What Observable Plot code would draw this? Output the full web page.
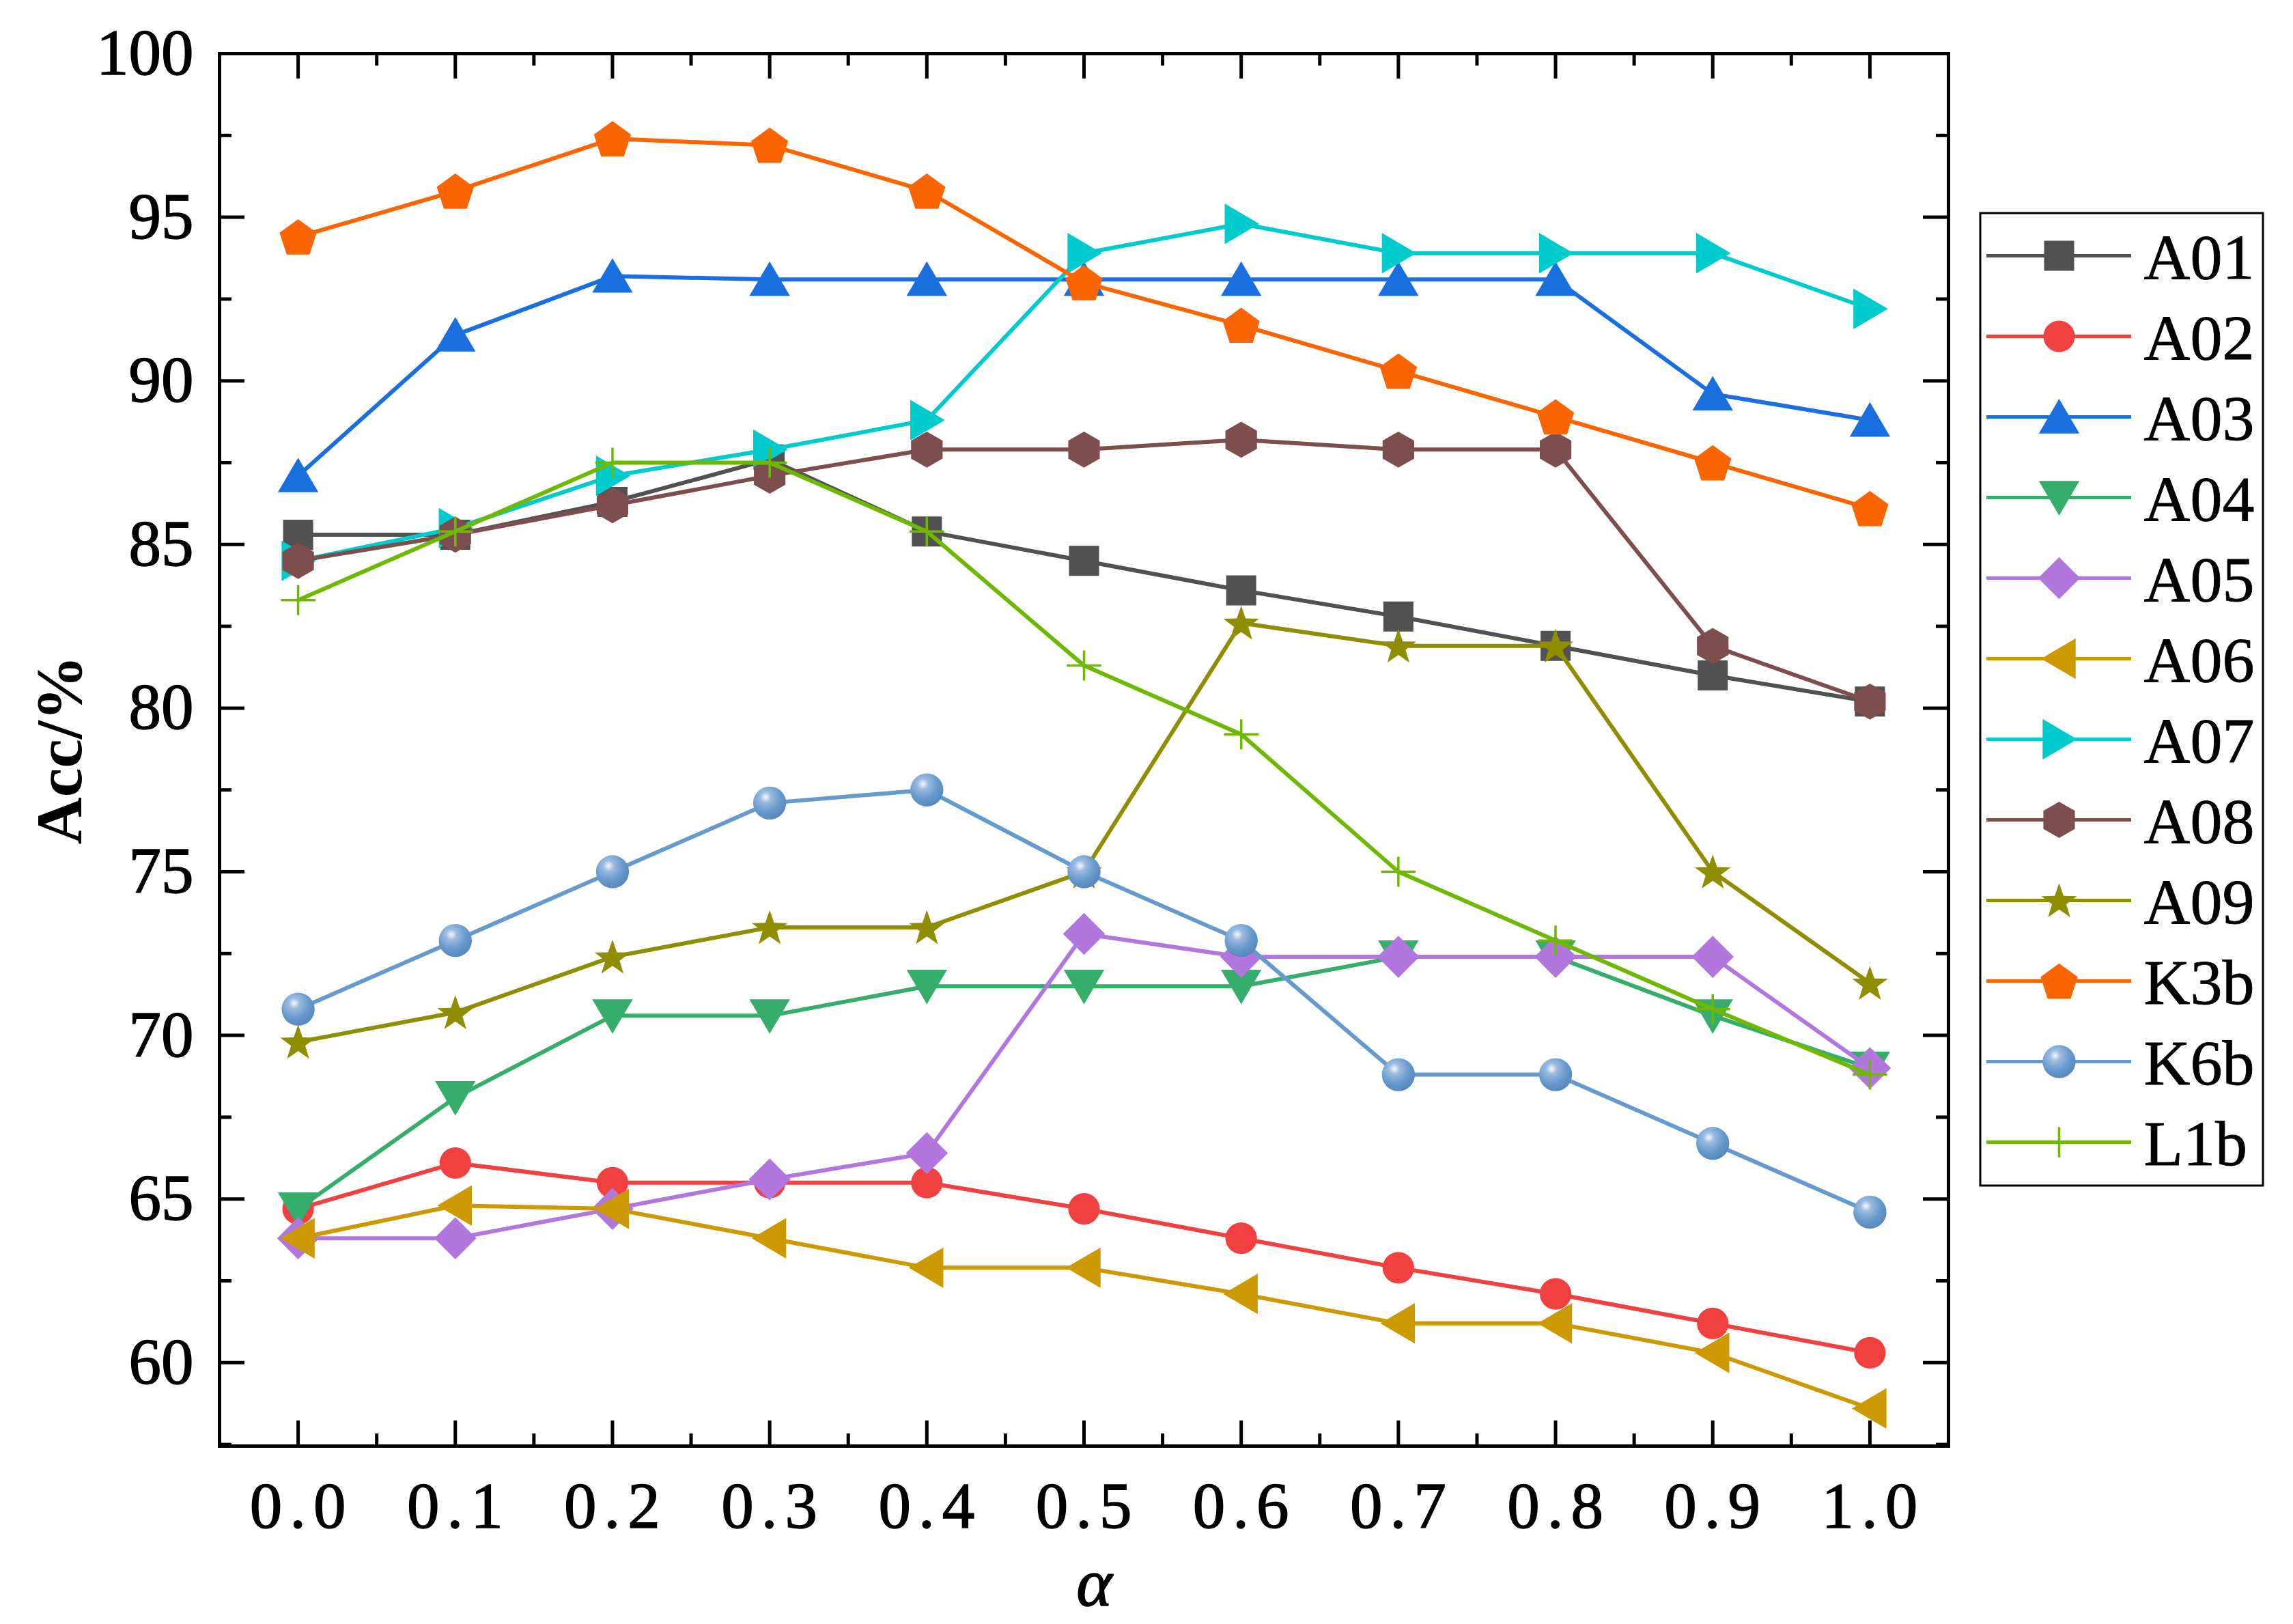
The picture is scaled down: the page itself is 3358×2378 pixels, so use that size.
<!DOCTYPE html>
<html><head><meta charset="utf-8">
<script src="https://cdn.jsdelivr.net/npm/d3@7"></script>
<script src="https://cdn.jsdelivr.net/npm/@observablehq/plot@0.6"></script>
<style>
body{margin:0;background:#fff}
#wrap{position:relative;width:3358px;height:2378px;background:#fff}
#legend{position:absolute;left:2898px;top:310px}
g[aria-label="x-axis tick label"] text{letter-spacing:11px}
g[aria-label="x-axis tick label"], g[aria-label="y-axis tick label"]{stroke:black;stroke-width:1.5px;paint-order:stroke}
#legend g[aria-label="text"]{stroke:black;stroke-width:0.8px;paint-order:stroke}
</style></head><body><div id="wrap"></div>
<script>
// ---- data ----
const alpha = [0.0, 0.1, 0.2, 0.3, 0.4, 0.5, 0.6, 0.7, 0.8, 0.9, 1.0];
const A01 = [85.3, 85.3, 86.3, 87.6, 85.4, 84.5, 83.6, 82.8, 81.9, 81.0, 80.2];
const A02 = [64.7, 66.1, 65.5, 65.5, 65.5, 64.7, 63.8, 62.9, 62.1, 61.2, 60.3];
const A03 = [87.1, 91.4, 93.2, 93.1, 93.1, 93.1, 93.1, 93.1, 93.1, 89.6, 88.8];
const A04 = [64.7, 68.1, 70.6, 70.6, 71.5, 71.5, 71.5, 72.4, 72.4, 70.6, 69.0];
const A05 = [63.8, 63.8, 64.7, 65.6, 66.4, 73.1, 72.4, 72.4, 72.4, 72.4, 69.0];
const A06 = [63.8, 64.8, 64.7, 63.8, 62.9, 62.9, 62.1, 61.2, 61.2, 60.3, 58.6];
const A07 = [84.5, 85.5, 87.1, 87.9, 88.8, 93.9, 94.8, 93.9, 93.9, 93.9, 92.2];
const A08 = [84.5, 85.3, 86.2, 87.1, 87.9, 87.9, 88.2, 87.9, 87.9, 81.9, 80.2];
const A09 = [69.8, 70.7, 72.4, 73.3, 73.3, 75.0, 82.6, 81.9, 81.9, 75.0, 71.6];
const K3b = [94.4, 95.8, 97.4, 97.2, 95.8, 93.0, 91.7, 90.3, 88.9, 87.5, 86.1];
const K6b = [70.8, 72.9, 75.0, 77.1, 77.5, 75.0, 72.9, 68.8, 68.8, 66.7, 64.6];
const L1b = [83.3, 85.4, 87.5, 87.5, 85.4, 81.3, 79.2, 75.0, 72.9, 70.8, 68.8];

const seriesNames = ["A01","A02","A03","A04","A05","A06","A07","A08","A09","K3b","K6b","L1b"];
const seriesValues = [A01, A02, A03, A04, A05, A06, A07, A08, A09, K3b, K6b, L1b];
const seriesColors = ["#515151","#F14040","#1A6FDF","#37AD6B","#B177DE","#CC9900","#00CBCC","#7D4E4E","#8E8E00","#FB6501","#6699CC","#6FB802"];

const yMajor = [60, 65, 70, 75, 80, 85, 90, 95, 100];
const yMinor = [57.5, 62.5, 67.5, 72.5, 77.5, 82.5, 87.5, 92.5, 97.5];
const xMajor = [0.0, 0.1, 0.2, 0.3, 0.4, 0.5, 0.6, 0.7, 0.8, 0.9, 1.0];
const xMinor = [0.05, 0.15, 0.25, 0.35, 0.45, 0.55, 0.65, 0.75, 0.85, 0.95];

// ---- symbols (geometry in px, scaled by k) ----
const k = 1.1;
function poly(pts) {
  return {draw(ctx, size) {
    const s = k * Math.sqrt(size / Math.PI);
    ctx.moveTo(pts[0][0] * s, pts[0][1] * s);
    for (let i = 1; i < pts.length; i++) ctx.lineTo(pts[i][0] * s, pts[i][1] * s);
    ctx.closePath();
  }};
}
function regular(n, R, rot, oy, inner) {
  const pts = [];
  const m = inner ? n * 2 : n;
  for (let i = 0; i < m; i++) {
    const a = rot + i * 2 * Math.PI / m;
    const rr = inner && (i % 2) ? inner : R;
    pts.push([rr * Math.cos(a), rr * Math.sin(a) + oy]);
  }
  return poly(pts);
}
function circ(R) {
  return {draw(ctx, size){ const s = k * Math.sqrt(size/Math.PI); ctx.moveTo(R*s,0); ctx.arc(0,0,R*s,0,2*Math.PI); }};
}
const symSquare = poly([[-20,-20],[20,-20],[20,20],[-20,20]]);
const symCircle = circ(21);
const symCircleB = circ(22);
const symTriUp = poly([[0,-24],[27,22],[-27,22]]);
const symTriDown = poly([[0,24],[27,-22],[-27,-22]]);
const symTriLeft = poly([[-24,0],[22,-27],[22,27]]);
const symTriRight = poly([[24,0],[-22,-27],[-22,27]]);
const symDiamond = poly([[0,-28],[28,0],[0,28],[-28,0]]);
const symHexagon = poly([[0,-24],[21,-12],[21,12],[0,24],[-21,12],[-21,-12]]);
const symStar = regular(5, 25, -Math.PI/2, 2, 10);
const symPentagon = regular(5, 26, -Math.PI/2, 2.5, 0);
const symPlus = {draw(ctx, size){ const s = k * Math.sqrt(size/Math.PI); ctx.moveTo(-23*s,0); ctx.lineTo(23*s,0); ctx.moveTo(0,-20*s); ctx.lineTo(0,20*s); }};
const seriesSymbols = [symSquare, symCircle, symTriUp, symTriDown, symDiamond, symTriLeft, symTriRight, symHexagon, symStar, symPentagon, symCircleB, symPlus];

function dotStyle(i) {
  if (seriesNames[i] === "L1b") return {fill: "none", stroke: seriesColors[i], strokeWidth: 3.5};
  if (seriesNames[i] === "K6b") return {fill: "url(#k6bGrad)", stroke: "none"};
  return {fill: seriesColors[i], stroke: "none"};
}

// ---- layout ----
const W = 3358, H = 2378, mL = 321, mR = 505, mT = 78, mB = 261;
const plotW = W - mL - mR, plotH = H - mT - mB;
const majorLen = 37, minorLen = 18;
const font = "'Liberation Serif', 'Times New Roman', serif";

const seriesMarks = [];
seriesNames.forEach((name, i) => {
  const rows = alpha.map((a, j) => ({alpha: a, acc: seriesValues[i][j]}));
  seriesMarks.push(Plot.line(rows, {x: "alpha", y: "acc", stroke: seriesColors[i], strokeWidth: 6}));
  seriesMarks.push(Plot.dot(rows, {x: "alpha", y: "acc", symbol: seriesSymbols[i], r: 1, ...dotStyle(i)}));
});

const tickStyle = {stroke: "black", strokeWidth: 5};
const chart = Plot.plot({
  width: W, height: H,
  marginLeft: mL, marginRight: mR, marginTop: mT, marginBottom: mB,
  style: {fontFamily: font, background: "white", color: "black", overflow: "visible"},
  x: {domain: [-0.05, 1.05]},
  y: {domain: [57.45, 100]},
  marks: [
    ...seriesMarks,
    Plot.tickY(yMajor, {y: d => d, insetRight: plotW - majorLen, ...tickStyle}),
    Plot.tickY(yMinor, {y: d => d, insetRight: plotW - minorLen, ...tickStyle}),
    Plot.tickY(yMajor, {y: d => d, insetLeft: plotW - majorLen, ...tickStyle}),
    Plot.tickY(yMinor, {y: d => d, insetLeft: plotW - minorLen, ...tickStyle}),
    Plot.tickX(xMajor, {x: d => d, insetTop: plotH - majorLen, ...tickStyle}),
    Plot.tickX(xMinor, {x: d => d, insetTop: plotH - minorLen, ...tickStyle}),
    Plot.tickX(xMajor, {x: d => d, insetBottom: plotH - majorLen, ...tickStyle}),
    Plot.tickX(xMinor, {x: d => d, insetBottom: plotH - minorLen, ...tickStyle}),
    Plot.frame({stroke: "black", strokeWidth: 5}),
    Plot.axisY(yMajor, {anchor: "left", tickSize: 0, tickPadding: 38, fontSize: 95, label: null, fontFamily: font}),
    Plot.axisX(xMajor, {anchor: "bottom", tickSize: 0, tickPadding: 52, fontSize: 95, label: null, fontFamily: font, dx: 5, tickFormat: d => d.toFixed(1)}),
    Plot.text(["Acc/%"], {frameAnchor: "left", text: d => d, rotate: -90, dx: -203, lineAnchor: "bottom", textAnchor: "middle", fontSize: 96, fontWeight: "bold", fontFamily: font}),
    Plot.text(["α"], {frameAnchor: "bottom", text: d => d, dy: 233, dx: 15, lineAnchor: "bottom", textAnchor: "middle", fontSize: 100, fontStyle: "italic", fontFamily: font, fill: "black", stroke: "black", strokeWidth: 1.5})
  ]
});

// radial gradient for the K6b spheres
const ns = "http://www.w3.org/2000/svg";
const defs = document.createElementNS(ns, "defs");
defs.innerHTML = '<radialGradient id="k6bGrad" cx="0.38" cy="0.32" r="0.75">' +
  '<stop offset="0" stop-color="#f6f9fd"/><stop offset="0.22" stop-color="#9bbbe0"/>' +
  '<stop offset="0.6" stop-color="#6699cc"/><stop offset="1" stop-color="#5683b8"/></radialGradient>';
chart.insertBefore(defs, chart.firstChild);

// ---- legend ----
const legMarks = [Plot.frame({stroke: "black", strokeWidth: 3, inset: 1.5})];
seriesNames.forEach((name, i) => {
  legMarks.push(Plot.ruleY([name], {y: d => d, x1: 0, x2: 1, stroke: seriesColors[i], strokeWidth: 5}));
  legMarks.push(Plot.dot([name], {y: d => d, x: 0.5, symbol: seriesSymbols[i], r: 1, ...dotStyle(i)}));
});
legMarks.push(Plot.text(seriesNames, {y: d => d, x: 1, dx: 18, dy: 3, text: d => d, textAnchor: "start", lineAnchor: "middle", fontSize: 94, fontFamily: font, fill: "black"}));
const legend = Plot.plot({
  width: 417, height: 1427, margin: 0,
  style: {fontFamily: font, background: "white", color: "black", overflow: "visible"},
  x: {domain: [0, 1], range: [11, 223], axis: null},
  y: {type: "point", domain: seriesNames, range: [62, 1363], padding: 0, axis: null},
  marks: legMarks
});
legend.id = "legend";

const wrap = document.getElementById("wrap");
wrap.appendChild(chart);
wrap.appendChild(legend);
</script></body></html>
